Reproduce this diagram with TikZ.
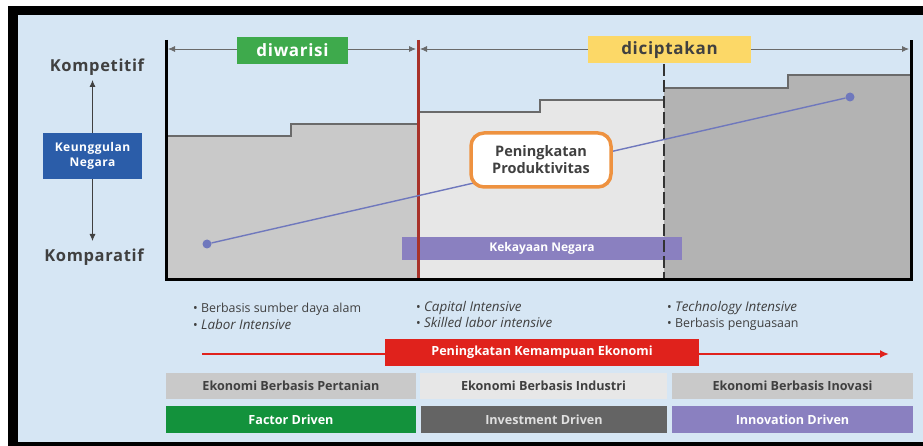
\documentclass[tikz,border=0pt]{standalone}
\usepackage{fontspec}
\setmainfont{Open Sans}
\usetikzlibrary{calc}
\usetikzlibrary{positioning}
\usetikzlibrary{arrows.meta}
\definecolor{bgblue}{HTML}{D6E6F4}
\definecolor{stepA}{HTML}{C9C9C9}
\definecolor{stepB}{HTML}{E7E7E7}
\definecolor{stepC}{HTML}{B3B3B3}
\definecolor{stepedge}{HTML}{6A6A6A}
\definecolor{darkred}{HTML}{A8322A}
\definecolor{prodline}{HTML}{6F78BD}
\definecolor{orangeb}{HTML}{EE9240}
\definecolor{purplebox}{HTML}{8A80C0}
\definecolor{greenlab}{HTML}{3EAA4C}
\definecolor{yellowlab}{HTML}{FCD867}
\definecolor{bluebox}{HTML}{2B5DA9}
\definecolor{redbox}{HTML}{E0221C}
\definecolor{greenbox}{HTML}{13923C}
\definecolor{darkgraybox}{HTML}{646464}
\definecolor{textgray}{HTML}{404040}
\newcommand{\itpart}[1]{{\fontsize{13.4}{16.5}\selectfont\itshape #1}}
\tikzstyle{headbox} = [minimum height=27, inner sep=0, font=\bfseries\fontsize{17}{19}\selectfont\addfontfeature{LetterSpace=4}]
\tikzstyle{rowbox} = [minimum height=26, inner sep=0, font=\bfseries\fontsize{12.6}{14}\selectfont]
\tikzstyle{sidetext} = [text=textgray, inner sep=0, font=\bfseries\fontsize{16.5}{18}\selectfont\addfontfeature{LetterSpace=4}]
\tikzstyle{bullettext} = [anchor=north west, align=left, inner sep=0, text=textgray, font=\fontsize{12.4}{16.5}\selectfont]
\tikzstyle{stepline} = [draw=stepedge, line width=1.2]
\tikzstyle{spanarrow} = [draw=stepedge, line width=0.8, {Latex[length=7,width=6]}-{Latex[length=7,width=6]}]
\tikzstyle{dotnode} = [circle, fill=prodline, inner sep=0, minimum size=9]

\begin{document}
\begin{tikzpicture}[x=1pt, y=-1pt]
\useasboundingbox (0,0) rectangle (923,446);
% frame
\fill[black] (8,6) rectangle (923,446);
\fill[bgblue] (18,15) rectangle (923,442);

% staircase areas
\fill[stepA] (166,279) -- (166,136) -- (291,136) -- (291,124) -- (418,124) -- (418,279) -- cycle;
\fill[stepB] (418,279) -- (418,112) -- (540,112) -- (540,100) -- (664,100) -- (664,279) -- cycle;
\fill[stepC] (664,279) -- (664,88) -- (788,88) -- (788,75) -- (911,75) -- (911,279) -- cycle;
\draw[stepline] (166,136) -- (291,136) -- (291,124) -- (418,124);
\draw[stepline] (418,112) -- (540,112) -- (540,100) -- (664,100);
\draw[stepline] (664,88) -- (788,88) -- (788,75) -- (911,75);

% wealth bar
\node[fill=purplebox, text=white, minimum width=280, minimum height=23, inner sep=0,
  font=\bfseries\fontsize{12}{14}\selectfont] (kekayaan) at (542,248.5) {Kekayaan Negara};

% chart borders
\coordinate (chartTL) at (166,40);
\coordinate (chartBL) at (166,279);
\coordinate (chartTR) at (911,40);
\coordinate (chartBR) at (911,279);
\coordinate (redtop) at (418,40);
\coordinate (redbot) at (418,279);
\coordinate (dashtop) at (664,64);
\coordinate (dashbot) at (664,279);
\draw[darkred, line width=3] (redtop) -- (redbot);
\draw[black!80, line width=2, dash pattern=on 12 off 4] (dashtop) -- (dashbot);
\draw[black, line width=3] (chartTL) -- (chartBL) -- (chartBR) -- (chartTR);

% spans
\draw[spanarrow] ($(chartTL)+(2,9)$) -- ($(redtop)+(-2,9)$);
\draw[spanarrow] ($(redtop)+(2,9)$) -- ($(chartTR)+(-2,9)$);
\node[headbox, fill=greenlab, text=white, minimum width=111] (diwarisi) at (292.5,50.5) {diwarisi};
\node[headbox, fill=yellowlab, text=textgray, minimum width=163] (diciptakan) at (669.5,50) {diciptakan};

% productivity line
\node[dotnode] (low) at (207,244) {};
\node[dotnode] (high) at (850,97) {};
\draw[prodline, line width=1.4] (low) -- (high);
\node[draw=orangeb, line width=3.5, fill=white, rounded corners=13, minimum width=140, minimum height=54,
  align=center, text=textgray, font=\bfseries\fontsize{14.5}{17}\selectfont] (produktif) at (541,160)
  {Peningkatan\\Produktivitas};

% competitive axis
\node[sidetext] (kompetitif) at (97,67) {Kompetitif};
\node[sidetext] (komparatif) at (94,257) {Komparatif};
\node[fill=bluebox, text=white, minimum width=99, minimum height=46, inner sep=0, align=center,
  font=\bfseries\fontsize{12}{15}\selectfont\addfontfeature{LetterSpace=4}] (keunggulan) at (92.5,156) {Keunggulan\\Negara};
\draw[textgray, line width=0.8, -{Latex[length=7,width=6]}] (keunggulan) -- (92.5,80);
\draw[textgray, line width=0.8, -{Latex[length=7,width=6]}] (keunggulan) -- (92.5,241);

% characteristics
\node[bullettext] (ciri1) at (193,303) {\textbullet\ Berbasis sumber daya alam\\\textbullet\ \itpart{Labor Intensive}};
\node[bullettext] (ciri2) at (416,301) {\textbullet\ \itpart{Capital Intensive}\\\textbullet\ \itpart{Skilled labor intensive}};
\node[bullettext] (ciri3) at (667,301) {\textbullet\ \itpart{Technology Intensive}\\\textbullet\ Berbasis penguasaan};

% economic capability arrow
\coordinate (ekoL) at (202,354);
\coordinate (ekoR) at (889,354);
\draw[redbox, line width=2, -{Latex[length=9,width=8]}] (ekoL) -- (ekoR);
\node[rowbox, fill=redbox, text=white, minimum width=314, minimum height=27] (kemampuan) at (542,352.5)
  {Peningkatan Kemampuan Ekonomi};

% stages
\node[rowbox, fill=stepA, text=textgray, minimum width=250] (pertanian) at (291,386) {Ekonomi Berbasis Pertanian};
\node[rowbox, fill=stepB, text=textgray, minimum width=247] (industri) at (543.5,386) {Ekonomi Berbasis Industri};
\node[rowbox, fill=stepA, text=textgray, minimum width=241] (inovasi) at (792.5,386) {Ekonomi Berbasis Inovasi};
\node[rowbox, fill=greenbox, text=white, minimum width=250, minimum height=27] (factor) at ($(pertanian)+(0,33.5)$) {Factor Driven};
\node[rowbox, fill=darkgraybox, text=black!12, minimum width=246, minimum height=27] (investment) at ($(industri)+(0.5,33.5)$) {Investment Driven};
\node[rowbox, fill=purplebox, text=white, minimum width=241, minimum height=27] (innovation) at ($(inovasi)+(0,33.5)$) {Innovation Driven};
\end{tikzpicture}
\end{document}
